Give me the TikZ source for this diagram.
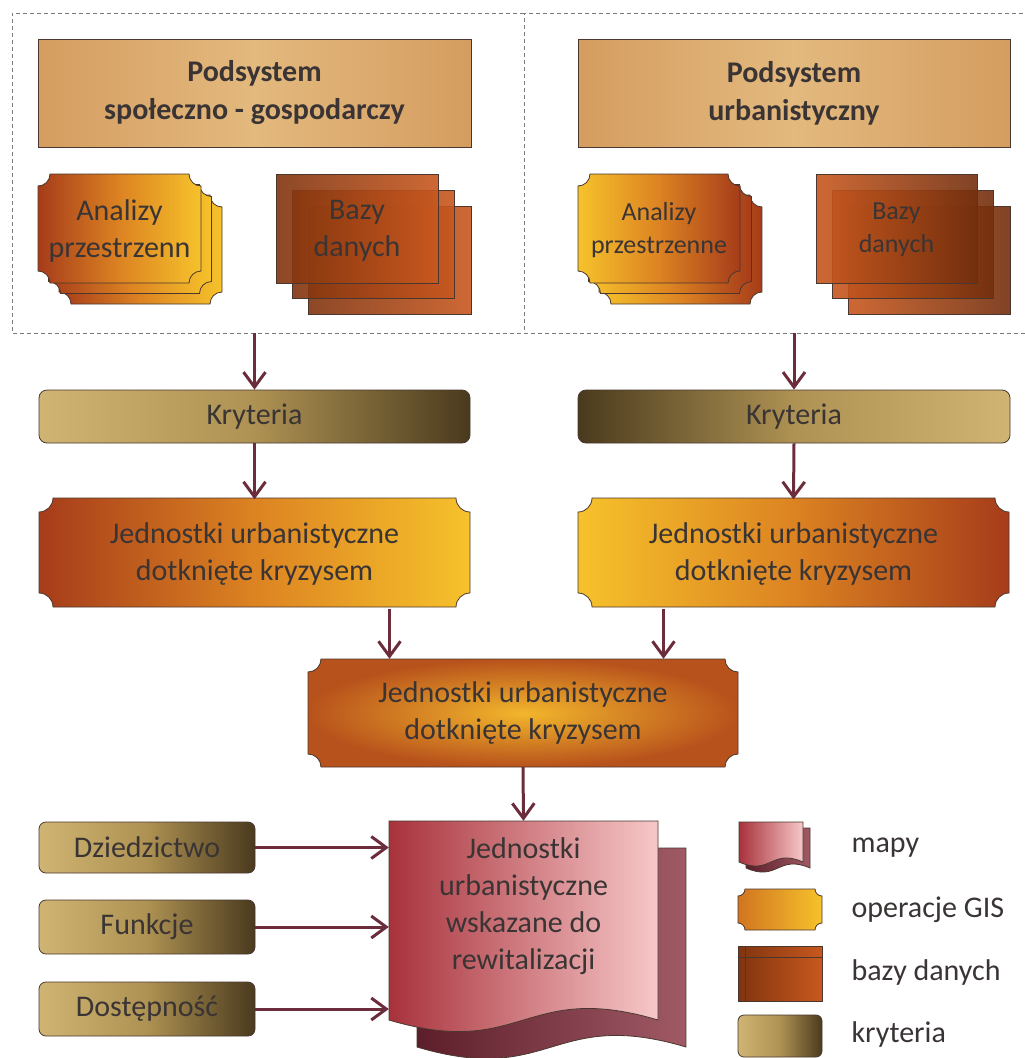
\documentclass[tikz,border=0pt]{standalone}
\usepackage{fontspec}
\setmainfont{Carlito}
\usetikzlibrary{arrows.meta}
\definecolor{arrowc}{HTML}{6B2D3B}
\definecolor{txt}{HTML}{3A3434}
\definecolor{tanL}{HTML}{D0B473}
\definecolor{tanM}{HTML}{AE9253}
\definecolor{tanD}{HTML}{4A3A1D}
\definecolor{gisR}{HTML}{A63C1A}
\definecolor{gisM}{HTML}{DC8322}
\definecolor{gisY}{HTML}{F6C22B}
\definecolor{dbD}{HTML}{80340F}
\definecolor{dbO}{HTML}{C8581F}
\definecolor{podE}{HTML}{D59D60}
\definecolor{podC}{HTML}{E3B97E}
\definecolor{mapD}{HTML}{A8323C}
\definecolor{mapL}{HTML}{F7C8C8}
\definecolor{mapBD}{HTML}{5C1E2A}
\definecolor{mapBL}{HTML}{A05A66}
\definecolor{edgec}{HTML}{4A3830}
\definecolor{dashc}{HTML}{7A7A7A}
\definecolor{cenI}{HTML}{F2B62C}
\definecolor{cenO}{HTML}{B8521C}

\newcommand\plaque[5]{({#1+#5},#2) -- ({#3-#5},#2) .. controls ({#3-#5},{#2+0.552*#5}) and ({#3-0.552*#5},{#2+#5}) .. (#3,{#2+#5}) -- (#3,{#4-#5}) .. controls ({#3-0.552*#5},{#4-#5}) and ({#3-#5},{#4-0.552*#5}) .. ({#3-#5},#4) -- ({#1+#5},#4) .. controls ({#1+#5},{#4-0.552*#5}) and ({#1+0.552*#5},{#4-#5}) .. (#1,{#4-#5}) -- (#1,{#2+#5}) .. controls ({#1+0.552*#5},{#2+#5}) and ({#1+#5},{#2+0.552*#5}) .. ({#1+#5},#2) -- cycle}
\newcommand\docshape[5]{(#1,#2) -- ({#1+#3},#2) -- ({#1+#3},{#2+#4}) .. controls ({#1+0.5*#3},{#2+#4-#5}) and ({#1+0.5*#3},{#2+#4+#5}) .. (#1,{#2+#4}) -- cycle}

\tikzset{
  lbl/.style={text=txt, align=center, font=\fontsize{30}{37}\selectfont},
  lbls/.style={text=txt, align=center, font=\fontsize{26}{33}\selectfont},
  podsys/.style={draw=edgec, line width=0.8pt, left color=podE, right color=podE, middle color=podC,
    minimum height=108pt, text=txt, align=center, font=\fontsize{30}{38}\selectfont\bfseries},
  krit/.style={draw=edgec, line width=0.8pt, rounded corners=8pt, left color=tanL, right color=tanD, middle color=tanM,
    text=txt, font=\fontsize{30}{37}\selectfont},
  kritr/.style={krit, left color=tanD, right color=tanL, middle color=tanM},
  gisL/.style={draw=edgec, line width=0.8pt, left color=gisR, right color=gisY, middle color=gisM},
  gisRt/.style={draw=edgec, line width=0.8pt, left color=gisY, right color=gisR, middle color=gisM},
  dbL/.style={draw=edgec, line width=0.8pt, left color=dbD, right color=dbO, fill opacity=0.9},
  dbR/.style={draw=edgec, line width=0.8pt, left color=dbO, right color=dbD!90!black, fill opacity=0.9},
  arr/.style={draw=arrowc, line width=3pt, -{Straight Barb[length=15pt,width=22pt]}},
  dashline/.style={draw=dashc, line width=1pt, dash pattern=on 4pt off 3pt},
  legtxt/.style={text=txt, anchor=base west, font=\fontsize{30}{37}\selectfont},
}

\begin{document}
\begin{tikzpicture}[x=1pt,y=-1pt]
\useasboundingbox (0,0) rectangle (1025,1058);

% ---------- dashed frames ----------
\draw[dashline] (524,13) -- (12,13) -- (12,333) -- (524,333);
\draw[dashline] (1030,13) -- (524,13) -- (524,333) -- (1030,333);
\coordinate (sysL) at (254.5,333);
\coordinate (sysR) at (794,333);

% ---------- subsystem titles ----------
\node[podsys, minimum width=433pt] (ps1) at (254.5,93) {Podsystem\\społeczno - gospodarczy};
\node[podsys, minimum width=432pt] (ps2) at (794,93) {Podsystem\\urbanistyczny};

% ---------- left Analizy stack ----------
\shadedraw[gisL] \plaque{59}{195}{222}{304}{12};
\shadedraw[gisL] \plaque{48.5}{184.5}{211.5}{293.5}{12};
\shadedraw[gisL] \plaque{38}{174}{201}{283}{12};
\node[lbl] (an1) at (119.5,231) {Analizy\\przestrzenn};

% ---------- left Bazy stack ----------
\shadedraw[dbL] (308,206) rectangle (471,314);
\shadedraw[dbL] (292,190) rectangle (454,298);
\shadedraw[dbL] (276,174) rectangle (438,283);
\node[lbl] (bz1) at (357,231) {Bazy\\danych};

% ---------- right Analizy stack ----------
\shadedraw[gisRt] \plaque{599}{195}{762}{304}{12};
\shadedraw[gisRt] \plaque{588.5}{184.5}{751.5}{293.5}{12};
\shadedraw[gisRt] \plaque{578}{174}{740}{283}{12};
\node[lbls] (an2) at (659,230) {Analizy\\przestrzenne};

% ---------- right Bazy stack ----------
\shadedraw[dbR] (848,206) rectangle (1010,314);
\shadedraw[dbR] (832,190) rectangle (993,298);
\shadedraw[dbR] (816,174) rectangle (977,283);
\node[lbls] (bz2) at (896.5,230) {Bazy\\danych};

% ---------- Kryteria ----------
\node[krit, minimum width=431pt, minimum height=53pt] (k1) at (254.5,416.5) {Kryteria};
\node[kritr, minimum width=432pt, minimum height=53pt] (k2) at (794,416.5) {Kryteria};

% ---------- Jednostki (GIS) ----------
\shadedraw[gisL] \plaque{39}{498}{470}{607}{14};
\node[lbl, minimum width=431pt, minimum height=109pt] (j1) at (254.5,554) {Jednostki urbanistyczne\\dotknięte kryzysem};
\shadedraw[gisRt] \plaque{578}{498}{1009}{607}{14};
\node[lbl, minimum width=431pt, minimum height=109pt] (j2) at (793.5,554) {Jednostki urbanistyczne\\dotknięte kryzysem};

% ---------- central box ----------
\shadedraw[draw=edgec, line width=0.8pt, inner color=cenI, outer color=cenO] \plaque{308}{659}{738}{767}{13};
\node[lbl, minimum width=430pt, minimum height=108pt] (cen) at (523,713) {Jednostki urbanistyczne\\dotknięte kryzysem};

% ---------- document ----------
\shadedraw[draw=edgec, line width=0.8pt, left color=mapBD, right color=mapBL] \docshape{417}{848}{269}{199}{40};
\shadedraw[draw=edgec, line width=0.8pt, left color=mapD, right color=mapL] \docshape{389}{821}{269}{199}{40};
\node[minimum width=269pt, minimum height=199pt, inner sep=0pt] (doc) at (523.5,920.5) {};
\node[lbl] (doctxt) at (523.5,906) {Jednostki\\urbanistyczne\\wskazane do\\rewitalizacji};

% ---------- bottom criteria ----------
\node[krit, rounded corners=7pt, minimum width=216pt, minimum height=51pt] (dz) at (147,847.5) {Dziedzictwo};
\node[krit, rounded corners=7pt, minimum width=216pt, minimum height=54pt] (fk) at (147,927) {Funkcje};
\node[krit, rounded corners=7pt, minimum width=216pt, minimum height=54pt] (ds) at (147,1009) {Dostępność};

% ---------- legend ----------
\shadedraw[draw=edgec, line width=0.8pt, left color=mapBD, right color=mapBL] \docshape{746}{828}{64}{40}{14};
\shadedraw[draw=edgec, line width=0.8pt, left color=mapD, right color=mapL] \docshape{739}{822}{64}{40}{14};
\node[inner sep=0pt, minimum width=64pt, minimum height=40pt] (lgmap) at (771,842) {};
\shadedraw[draw=edgec, line width=0.8pt, left color=gisM!80!gisR, right color=gisY] \plaque{738}{889}{822}{930}{7};
\node[inner sep=0pt, minimum width=84pt, minimum height=41pt] (lggis) at (780,909.5) {};
\shadedraw[draw=edgec, line width=0.8pt, left color=dbD, right color=dbO] (738,946) rectangle (822,1001);
\draw[edgec, line width=0.8pt] (738,957) -- (822,957) (745,946) -- (745,1001);
\node[inner sep=0pt, minimum width=84pt, minimum height=55pt] (lgdb) at (780,973.5) {};
\node[krit, rounded corners=6pt, minimum width=84pt, minimum height=42pt, inner sep=0pt] (lgkr) at (780,1036) {};
\node[legtxt] (t1) at (848,852) {mapy};
\node[legtxt] (t2) at (848,917) {operacje GIS};
\node[legtxt] (t3) at (848,980) {bazy danych};
\node[legtxt] (t4) at (848,1042) {kryteria};

% ---------- connectors ----------
\draw[arr] (sysL) -- (k1.north);
\draw[arr] (sysR) -- (k2.north);
\draw[arr] (k1.south) -- (j1.north);
\draw[arr] (k2.south) -- (j2.north);
\draw[arr] ([xshift=135pt]j1.south) -- ([xshift=135pt]j1.south |- cen.north);
\draw[arr] ([xshift=-130pt]j2.south) -- ([xshift=-130pt]j2.south |- cen.north);
\draw[arr] (cen.south) -- (doc.north);
\draw[arr] (dz.east) -- (dz.east -| doc.west);
\draw[arr] (fk.east) -- (fk.east -| doc.west);
\draw[arr] (ds.east) -- (ds.east -| doc.west);
\end{tikzpicture}
\end{document}
